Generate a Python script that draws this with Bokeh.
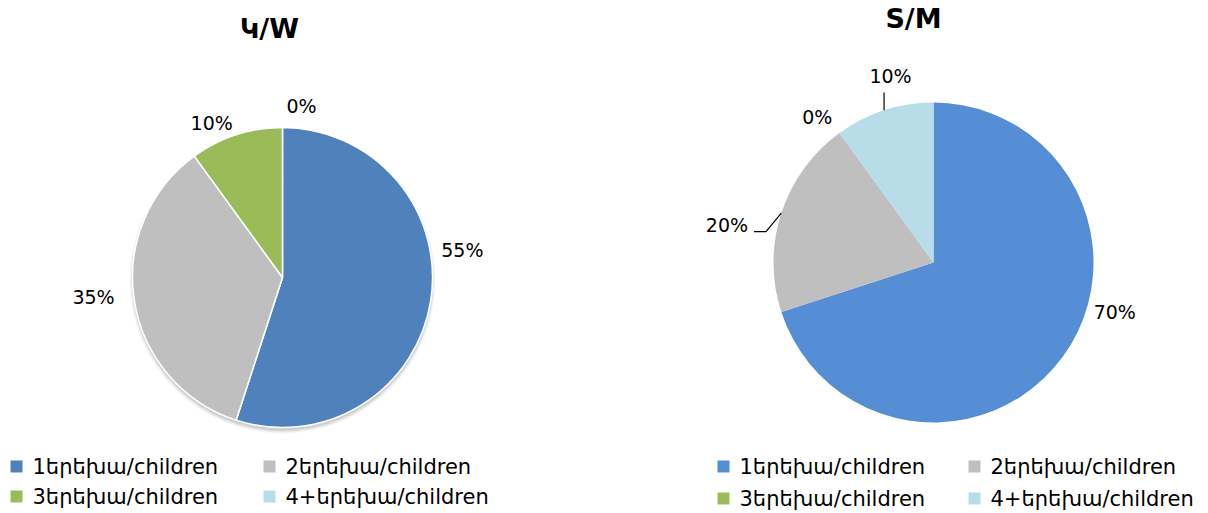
import math
from bokeh.plotting import figure
from bokeh.models import Range1d
from bokeh.core.properties import value
from bokeh.embed import file_html
from bokeh.resources import INLINE

# ---------------- data ----------------
categories = ["1երեխա/children", "2երեխա/children", "3երեխա/children", "4+երեխա/children"]
w_values = [55, 35, 10, 0]
m_values = [70, 20, 0, 10]
titles = ["Կ/W", "S/M"]
w_colors = ["#4F81BD", "#BFBFBF", "#9BBB59", "#B7DEE8"]
m_colors = ["#558ED5", "#BFBFBF", "#9BBB59", "#B7DEE8"]

# ---------------- layout ----------------
W, H = 1208, 513
FONT = "DejaVu Sans"


def X(px):  # picture x -> data x
    return px


def Y(py):  # picture y -> data y
    return H - py


p = figure(width=W, height=H, output_backend="svg", toolbar_location=None,
           x_range=Range1d(0, W), y_range=Range1d(0, H), min_border=0)
p.axis.visible = False
p.grid.visible = False
p.outline_line_color = None
p.background_fill_color = "white"
p.border_fill_color = "white"

charts = [
    dict(vals=w_values, colors=w_colors, title=titles[0], cx=282, cy=277, r=150,
         edge="white", shadow=True, title_xy=(269, 28),
         dang=[17.8, -3, 6.6, -6.3], rad=[182, 190, 170, 173],
         leg_x=[16, 269], leg_y=[466, 496], leaders=[]),
    dict(vals=m_values, colors=m_colors, title=titles[1], cx=933, cy=262, r=160,
         edge=None, shadow=False, title_xy=(913, 18),
         dang=[20.6, 7.6, 2.7, -5], rad=[188, 210, 186, 191],
         leg_x=[723, 974], leg_y=[466, 498], leaders=[1, 3]),
]

for ch in charts:
    vals = ch["vals"]
    total = float(sum(vals))
    cx, cy, r = X(ch["cx"]), Y(ch["cy"]), ch["r"]
    start = 90.0
    starts, ends, mids = [], [], []
    for v in vals:
        sweep = 360.0 * v / total
        starts.append(math.radians(start))
        ends.append(math.radians(start - sweep))
        mids.append(start - sweep / 2)
        start -= sweep
    # soft shadow
    if ch["shadow"]:
        for k, a in [(5, 0.05), (4, 0.07), (3, 0.09), (2, 0.12)]:
            p.circle(x=[cx], y=[cy - 3], radius=r + k - 2, fill_color="#606060",
                     fill_alpha=a, line_color=None)
    # wedges
    for i, v in enumerate(vals):
        if v <= 0:
            continue
        p.wedge(x=cx, y=cy, radius=r, start_angle=starts[i], end_angle=ends[i],
                direction="clock", fill_color=ch["colors"][i],
                line_color=ch["edge"], line_width=1.5 if ch["edge"] else 0)
    # labels
    lx, ly = [], []
    for i, v in enumerate(vals):
        a = math.radians(mids[i] + ch["dang"][i])
        x = cx + ch["rad"][i] * math.cos(a)
        y = cy + ch["rad"][i] * math.sin(a)
        lx.append(x)
        ly.append(y)
        p.text(x=[x], y=[y], text=[f"{v}%"], text_align="center", text_baseline="middle",
               text_font=value(FONT), text_font_size="19px", text_color="#000000")
    # leader lines
    for i in ch["leaders"]:
        a = math.radians(mids[i])
        ex, ey = cx + r * math.cos(a), cy + r * math.sin(a)
        if abs(math.cos(a)) > 0.5:
            xs = [ex, lx[i] + 39, lx[i] + 27]
            ys = [ey, ly[i] - 7, ly[i] - 7]
        else:
            xs = [ex, ex]
            ys = [ey, ly[i] - 16]
        p.line(x=xs, y=ys, line_color="black", line_width=1.2)
    # title
    tx, ty = ch["title_xy"]
    p.text(x=[X(tx)], y=[Y(ty)], text=[ch["title"]], text_align="center", text_baseline="middle",
           text_font=value(FONT), text_font_size="27px", text_font_style="bold", text_color="#000000")
    # legend
    for i, cat in enumerate(categories):
        col, row = i % 2, i // 2
        sx = X(ch["leg_x"][col])
        sy = Y(ch["leg_y"][row])
        p.rect(x=[sx], y=[sy], width=12, height=12, fill_color=ch["colors"][i], line_color=None)
        p.text(x=[sx + 16], y=[sy], text=[cat], text_align="left", text_baseline="middle",
               text_font=value(FONT), text_font_size="21px", text_color="#000000")

open("out.html", "w").write(file_html(p, INLINE))
